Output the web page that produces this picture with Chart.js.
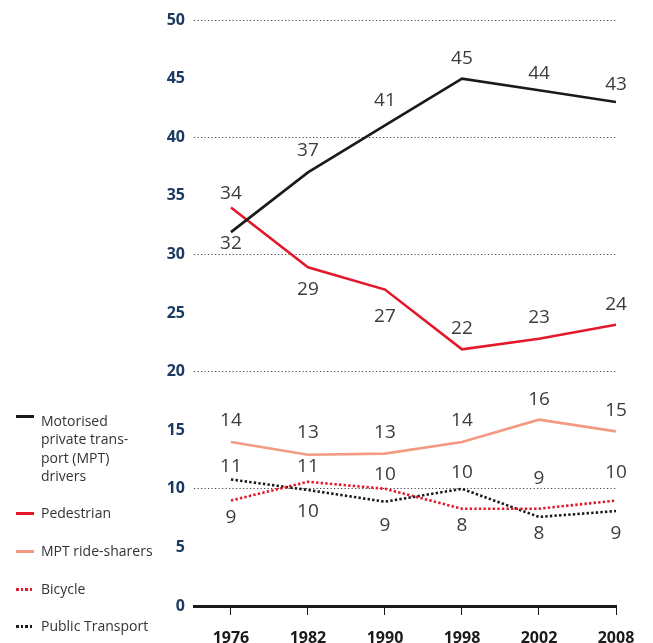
<!DOCTYPE html>
<html>
<head>
<meta charset="utf-8">
<script src="https://cdn.jsdelivr.net/npm/chart.js@4.4.1/dist/chart.umd.min.js"></script>
<style>
  body { margin: 0; background: #fff; }
  #wrap { position: relative; width: 653px; height: 643px; overflow: hidden; }
  canvas { position: absolute; left: 0; top: 0; }
  .leg { position: absolute; left: 41px; font: 14px "Open Sans", sans-serif; color: #333; line-height: 18.5px; white-space: pre-line; }
  .key { position: absolute; left: -25px; width: 18px; height: 3px; }
</style>
</head>
<body>
<div id="wrap">
  <canvas id="chart" width="653" height="643"></canvas>
</div>
<script>
// categories + series
const years = ['1976', '1982', '1990', '1998', '2002', '2008'];
const mptDrivers      = [31.9, 37, 41, 45, 44, 43];
const pedestrian      = [34, 28.9, 27, 21.9, 22.8, 24];
const rideSharers     = [14, 12.9, 13, 14, 15.9, 14.9];
const bicycle         = [9, 10.6, 10, 8.3, 8.3, 9];
const publicTransport = [10.8, 9.9, 8.9, 10, 7.6, 8.1];

// printed value labels
const mptDriversLbl      = [32, 37, 41, 45, 44, 43];
const pedestrianLbl      = [34, 29, 27, 22, 23, 24];
const rideSharersLbl     = [14, 13, 13, 14, 16, 15];
const bicycleLbl         = [9, 11, 10, 8, 9, 10];
const publicTransportLbl = [11, 10, 9, 10, 8, 9];

const seriesNames = ['Motorised\nprivate trans-\nport (MPT)\ndrivers', 'Pedestrian', 'MPT ride-sharers', 'Bicycle', 'Public Transport'];

const yMax = 50;
const yStep = 5;

const toXY = arr => arr.map((v, i) => ({ x: i, y: v }));

const series = [
  { data: mptDrivers, lbl: mptDriversLbl, color: '#1a1a1a', dotted: false, off: [11, -22, -25, -20, -17, -17], legTop: 411.5, keyTop: 3 },
  { data: pedestrian, lbl: pedestrianLbl, color: '#e3192b', dotted: false, off: [-14, 22, 27, -21, -21, -20], legTop: 504, keyTop: 7.75 },
  { data: rideSharers, lbl: rideSharersLbl, color: '#f39a82', dotted: false, off: [-21, -22, -21, -21, -20, -21], legTop: 542, keyTop: 7.75 },
  { data: bicycle, lbl: bicycleLbl, color: '#e3192b', dotted: true, off: [17, -15, -14, 17, -30, -28], legTop: 580, keyTop: 7.75 },
  { data: publicTransport, lbl: publicTransportLbl, color: '#1a1a1a', dotted: true, off: [-13, 22, 24, -16, 17, 23], legTop: 617, keyTop: 7.75 }
];

// legend on the left
const wrap = document.getElementById('wrap');
series.forEach((s, i) => {
  const d = document.createElement('div');
  d.className = 'leg';
  d.style.top = s.legTop + 'px';
  d.textContent = seriesNames[i];
  const k = document.createElement('span');
  k.className = 'key';
  k.style.top = s.keyTop + 'px';
  k.style.background = s.dotted
    ? `repeating-linear-gradient(to right, ${s.color} 0 2.5px, transparent 2.5px 4.6px)`
    : s.color;
  d.appendChild(k);
  wrap.appendChild(d);
});

// value labels next to the points
const valueLabels = {
  id: 'valueLabels',
  afterDatasetsDraw(chart) {
    const ctx = chart.ctx;
    ctx.save();
    ctx.font = '19px "Open Sans", sans-serif';
    ctx.fillStyle = '#3c3c3c';
    ctx.textAlign = 'center';
    ctx.textBaseline = 'middle';
    chart.data.datasets.forEach((ds, di) => {
      chart.getDatasetMeta(di).data.forEach((pt, i) => {
        ctx.fillText(String(ds.valueLbl[i]), pt.x, pt.y + ds.lblOffset[i]);
      });
    });
    ctx.restore();
  }
};

new Chart(document.getElementById('chart'), {
  type: 'line',
  data: {
    datasets: series.map((s, i) => ({
      label: seriesNames[i],
      data: toXY(s.data),
      valueLbl: s.lbl,
      lblOffset: s.off,
      borderColor: s.color,
      borderWidth: 2.6,
      borderDash: s.dotted ? [2.4, 2.2] : [],
      pointRadius: 0,
      tension: 0,
      fill: false
    }))
  },
  options: {
    responsive: false,
    animation: false,
    layout: { padding: { top: 20, right: 37, left: 0, bottom: 0 } },
    plugins: { legend: { display: false }, tooltip: { enabled: false } },
    scales: {
      x: {
        type: 'linear',
        min: -0.48,
        max: years.length - 1,
        afterFit: sc => { sc.height = 37; },
        ticks: {
          stepSize: 1,
          includeBounds: false,
          autoSkip: false,
          maxRotation: 0,
          padding: 14,
          color: '#1a1a1a',
          font: { family: '"Open Sans", sans-serif', size: 16, weight: 'bold' },
          callback: v => years[v] ?? ''
        },
        grid: { drawOnChartArea: false, drawTicks: true, tickLength: 9, color: '#1a1a1a', lineWidth: 1 },
        border: { display: true, color: '#1a1a1a', width: 3 }
      },
      y: {
        min: 0,
        max: yMax,
        afterFit: sc => { sc.width = 194; },
        ticks: {
          stepSize: yStep,
          padding: 9,
          color: '#1b3a63',
          font: { family: '"Open Sans", sans-serif', size: 16, weight: 'bold' }
        },
        grid: {
          drawTicks: false,
          lineWidth: 1,
          color: c => (c.tick && c.tick.value > 0 && c.tick.value % 10 === 0) ? '#444' : 'rgba(0,0,0,0)'
        },
        border: { display: false, dash: [1.2, 2.3] }
      }
    }
  },
  plugins: [valueLabels]
});
</script>
</body>
</html>
